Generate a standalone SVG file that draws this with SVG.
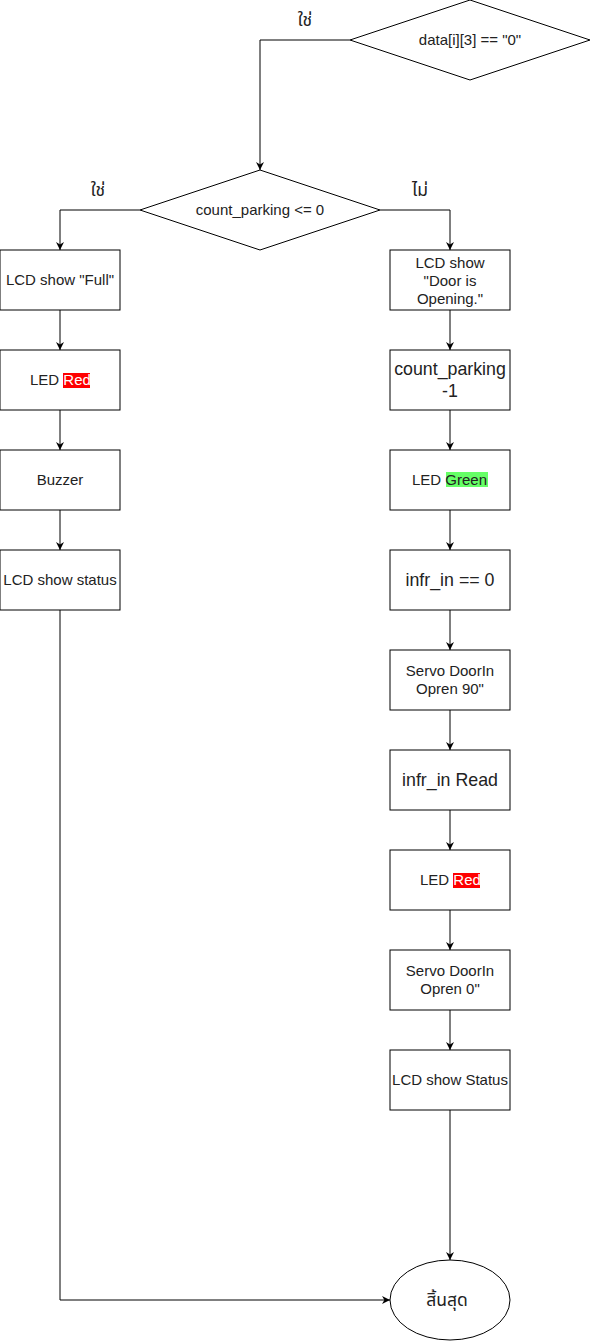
<svg xmlns="http://www.w3.org/2000/svg" width="591" height="1341" viewBox="0 0 591 1341">
  <style>
    .shape { fill: #ffffff; stroke: #000000; stroke-width: 1; }
    .edge { fill: none; stroke: #000000; stroke-width: 1; }
    .t { font-family: "Liberation Sans", Arial, sans-serif; font-size: 15px; fill: #222222; text-anchor: middle; }
    .ts { font-family: "Liberation Sans", Arial, sans-serif; font-size: 15px; fill: #222222; text-anchor: start; }
    .big { font-size: 17.8px; }
    .th { font-family: "Noto Sans Thai", "Noto Sans", "DejaVu Sans", sans-serif; font-size: 17.5px; fill: #222222; text-anchor: middle; }
  </style>
  <defs>
    <marker id="arrow" viewBox="0 0 10 10" refX="10" refY="5" markerWidth="8" markerHeight="8" markerUnits="userSpaceOnUse" orient="auto">
      <path d="M0,0 L10,5 L0,10 L3,5 Z" fill="#000000"/>
    </marker>
  </defs>
  <rect width="591" height="1341" fill="#ffffff"/>

  <!-- connectors -->
  <g id="connectors">
    <path class="edge" d="M350,40 H260 V170" marker-end="url(#arrow)"/>
    <path class="edge" d="M140,210 H60 V250" marker-end="url(#arrow)"/>
    <path class="edge" d="M380,210 H450 V250" marker-end="url(#arrow)"/>
    <path class="edge" d="M60,310 V350" marker-end="url(#arrow)"/>
    <path class="edge" d="M60,410 V450" marker-end="url(#arrow)"/>
    <path class="edge" d="M60,510 V550" marker-end="url(#arrow)"/>
    <path class="edge" d="M60,610 V1300 H390" marker-end="url(#arrow)"/>
    <path class="edge" d="M450,310 V350" marker-end="url(#arrow)"/>
    <path class="edge" d="M450,410 V450" marker-end="url(#arrow)"/>
    <path class="edge" d="M450,510 V550" marker-end="url(#arrow)"/>
    <path class="edge" d="M450,610 V650" marker-end="url(#arrow)"/>
    <path class="edge" d="M450,710 V750" marker-end="url(#arrow)"/>
    <path class="edge" d="M450,810 V850" marker-end="url(#arrow)"/>
    <path class="edge" d="M450,910 V950" marker-end="url(#arrow)"/>
    <path class="edge" d="M450,1010 V1050" marker-end="url(#arrow)"/>
    <path class="edge" d="M450,1110 V1260" marker-end="url(#arrow)"/>
    <text class="th" x="305" y="26">ใช่</text>
    <text class="th" x="98" y="196">ใช่</text>
    <text class="th" x="420" y="196">ไม่</text>
  </g>

  <!-- decisions -->
  <g id="check-data">
    <polygon class="shape" points="470,0 590,40 470,80 350,40"/>
    <text class="t" x="470" y="45">data[i][3] == "0"</text>
  </g>
  <g id="check-count">
    <polygon class="shape" points="260,170 380,210 260,250 140,210"/>
    <text class="t" x="260" y="215">count_parking &lt;= 0</text>
  </g>

  <!-- left branch -->
  <g id="lcd-full">
    <rect class="shape" x="0" y="250" width="120" height="60"/>
    <text class="t" x="60" y="285">LCD show "Full"</text>
  </g>
  <g id="led-red-left">
    <rect class="shape" x="0" y="350" width="120" height="60"/>
    <rect x="63" y="373" width="27" height="15" fill="#ff0000"/>
    <text class="ts" x="30" y="385">LED <tspan fill="#ffffff">Red</tspan></text>
  </g>
  <g id="buzzer">
    <rect class="shape" x="0" y="450" width="120" height="60"/>
    <text class="t" x="60" y="485">Buzzer</text>
  </g>
  <g id="lcd-status-left">
    <rect class="shape" x="0" y="550" width="120" height="60"/>
    <text class="t" x="60" y="585">LCD show status</text>
  </g>

  <!-- right branch -->
  <g id="lcd-door">
    <rect class="shape" x="390" y="250" width="120" height="60"/>
    <text class="t" x="450" y="268">LCD show</text>
    <text class="t" x="450" y="286">"Door is</text>
    <text class="t" x="450" y="304">Opening."</text>
  </g>
  <g id="count-dec">
    <rect class="shape" x="390" y="350" width="120" height="60"/>
    <text class="t big" x="450" y="375">count_parking</text>
    <text class="t big" x="450" y="397">-1</text>
  </g>
  <g id="led-green">
    <rect class="shape" x="390" y="450" width="120" height="60"/>
    <rect x="446" y="472" width="42" height="15" fill="#66ff66"/>
    <text class="ts" x="412" y="485">LED Green</text>
  </g>
  <g id="infr-check">
    <rect class="shape" x="390" y="550" width="120" height="60"/>
    <text class="t big" x="450" y="586">infr_in == 0</text>
  </g>
  <g id="servo-90">
    <rect class="shape" x="390" y="650" width="120" height="60"/>
    <text class="t" x="450" y="676">Servo DoorIn</text>
    <text class="t" x="450" y="694">Opren 90"</text>
  </g>
  <g id="infr-read">
    <rect class="shape" x="390" y="750" width="120" height="60"/>
    <text class="t big" x="450" y="786">infr_in Read</text>
  </g>
  <g id="led-red-right">
    <rect class="shape" x="390" y="850" width="120" height="60"/>
    <rect x="453" y="873" width="27" height="15" fill="#ff0000"/>
    <text class="ts" x="420" y="885">LED <tspan fill="#ffffff">Red</tspan></text>
  </g>
  <g id="servo-0">
    <rect class="shape" x="390" y="950" width="120" height="60"/>
    <text class="t" x="450" y="976">Servo DoorIn</text>
    <text class="t" x="450" y="994">Opren 0"</text>
  </g>
  <g id="lcd-status-right">
    <rect class="shape" x="390" y="1050" width="120" height="60"/>
    <text class="t" x="450" y="1085">LCD show Status</text>
  </g>

  <!-- end -->
  <g id="end">
    <ellipse class="shape" cx="450" cy="1300" rx="60" ry="40"/>
    <text class="th" x="447" y="1306" font-size="17px">สิ้นสุด</text>
  </g>
</svg>
